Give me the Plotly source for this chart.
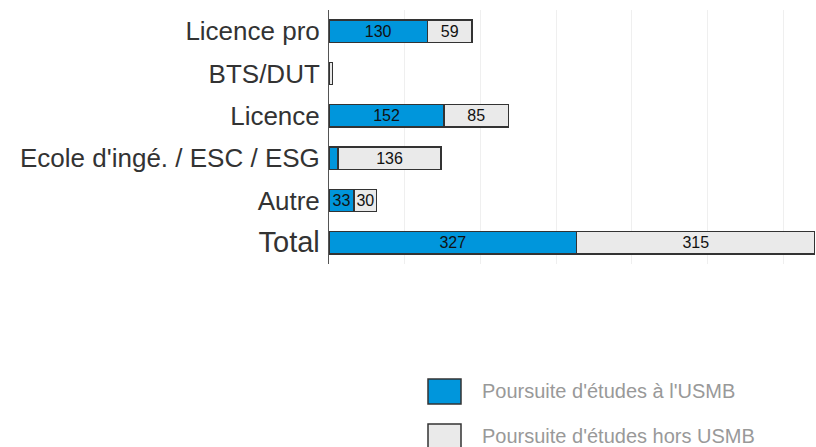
import plotly.graph_objects as go

categories = ["Licence pro", "BTS/DUT", "Licence", "Ecole d'ingé. / ESC / ESG", "Autre", "Total"]
usmb = [130, 0, 152, 12, 33, 327]
hors_usmb = [59, 5, 85, 136, 30, 315]
series_names = ["Poursuite d'études à l'USMB", "Poursuite d'études hors USMB"]
colors = ["#0096DC", "#EAEAEA"]

W, H = 816, 447
ml, mr, mt, mb = 329, 1, 10, 183

def lab(v):
    return [str(x) if x >= 20 else "" for x in v]

fig = go.Figure()
for vals, name, col in [(usmb, series_names[0], colors[0]), (hors_usmb, series_names[1], colors[1])]:
    fig.add_trace(go.Bar(
        y=categories, x=vals, orientation="h", name=name,
        marker=dict(color=col, line=dict(color="#333333", width=1.2)),
        text=lab(vals), textposition="inside", insidetextanchor="middle",
        textangle=0, constraintext="none",
        textfont=dict(family="Liberation Sans, Arial, sans-serif", size=16, color="#111111"),
        width=0.53, showlegend=False, cliponaxis=False,
    ))

ticktext = [c if c != "Total" else "<span style='font-size:29px'>Total</span>" for c in categories]

fig.update_layout(
    width=W, height=H, barmode="stack",
    margin=dict(l=ml, r=mr, t=mt, b=mb, autoexpand=False),
    paper_bgcolor="white", plot_bgcolor="white",
    font=dict(family="Liberation Sans, Arial, sans-serif", color="#333333"),
    xaxis=dict(range=[0, 642], dtick=100, showticklabels=False, showgrid=True,
               gridcolor="#EFEFEF", gridwidth=1, zeroline=False, showline=False, fixedrange=True),
    yaxis=dict(categoryorder="array", categoryarray=categories, autorange="reversed",
               tickvals=categories, ticktext=ticktext, automargin=False,
               tickfont=dict(size=26, color="#333333"), showline=True, linecolor="#555555",
               linewidth=1, ticks="", showgrid=False, ticklabelstandoff=3),
)

# custom legend below the chart
pw = W - ml - mr
ph = H - mt - mb
def px_x(p):
    return (p - ml) / pw
def px_y(p):
    return (H - mb - p) / ph

for i, (name, col) in enumerate(zip(series_names, colors)):
    top = 379 + i * 45
    fig.add_shape(type="rect", xref="paper", yref="paper",
                  x0=px_x(428), x1=px_x(461), y0=px_y(top + 25), y1=px_y(top),
                  fillcolor=col, line=dict(color="#333333", width=1.5))
    fig.add_annotation(xref="paper", yref="paper", x=px_x(480), y=px_y(top + 12),
                       text=name, showarrow=False, xanchor="left", yanchor="middle",
                       font=dict(size=20, color="#999999"))

fig.write_html("out.html", config={"displayModeBar": False},
               post_script="document.body.style.margin='0';document.body.style.overflow='hidden';")
